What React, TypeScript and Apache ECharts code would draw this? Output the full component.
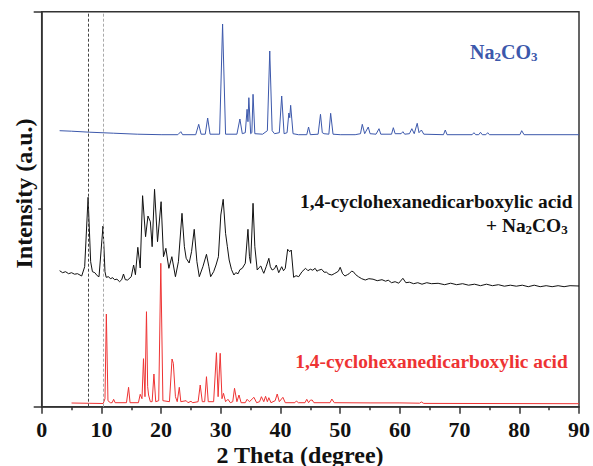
import React, { useEffect, useRef } from "react";
import * as echarts from "echarts";

// 2θ (degree), intensity (a.u.) pairs
const na2co3: [number, number][] = [
  [3, 276], [5, 275.5], [8, 274.5], [12, 273.5], [16, 272.5], [20, 272], [22.8, 272], [23.3, 275], [23.6, 272],
  [25.8, 272], [26.3, 282.4], [26.7, 272.5], [27.4, 272.5], [27.8, 288.7], [28.2, 272.5], [29.8, 272.5],
  [30.3, 382.7], [30.8, 272.5], [32.7, 272.5], [33.2, 287.7], [33.6, 273], [34.1, 274], [34.4, 297.4],
  [34.55, 285], [34.7, 309], [35.0, 273], [35.2, 274], [35.4, 312.4], [35.7, 273], [37.0, 272.5], [37.8, 276],
  [38.2, 355.7], [38.6, 276], [39.0, 273], [39.8, 274], [40.2, 310.7], [40.6, 273], [41.1, 274], [41.4, 293.7],
  [41.55, 289], [41.7, 301.4], [42.1, 273], [43, 272], [44.4, 272], [44.7, 279.7], [45.0, 272], [46.3, 272.5],
  [46.7, 292.4], [47.0, 274], [47.3, 273], [48.1, 272.5], [48.4, 293.4], [48.8, 272.5], [50, 272], [52.5, 272],
  [53.4, 273], [53.7, 282.4], [54.1, 273], [54.7, 279.7], [55.0, 273], [56.0, 272.5], [56.5, 278], [56.8, 272.5],
  [58.6, 272.5], [58.9, 279], [59.2, 273], [60.2, 273], [60.5, 275], [60.8, 272.5], [61.6, 273], [62.0, 278],
  [62.4, 273], [62.9, 283.4], [63.2, 274], [63.6, 276.7], [64, 272.5], [67.3, 272], [67.6, 276.7], [67.9, 272],
  [72.1, 272], [72.4, 274], [72.7, 272], [73.2, 272], [73.5, 274.4], [73.8, 272], [74.4, 272], [74.7, 274], [75, 272],
  [80.1, 272], [80.4, 276], [80.8, 272], [90, 272],
];

const mixture: [number, number][] = [
  [3, 136], [3.5, 134], [4, 135], [4.5, 133], [5, 134], [5.5, 132.5], [6, 133], [6.7, 130.7], [7.2, 140],
  [7.77, 209.4], [8.2, 145], [8.5, 135], [8.9, 134], [9.3, 131], [9.6, 130], [10.27, 180.7], [10.6, 135],
  [10.8, 129.4], [11.2, 130], [11.5, 128], [11.9, 129], [12.2, 127], [12.6, 127.5], [13.05, 125], [13.4, 127],
  [13.7, 132.7], [14.0, 127], [14.4, 126.7], [15.0, 130], [15.4, 141.7], [15.7, 132], [16.1, 159.4], [16.5, 138.7],
  [16.9, 211], [17.4, 170], [17.8, 190.7], [18.2, 185], [18.5, 160], [18.9, 217.4], [19.4, 165], [20.0, 205],
  [20.4, 150], [20.8, 158.4], [21.3, 138.4], [21.8, 150], [22.4, 130], [22.9, 145], [23.5, 193.4], [23.9, 160],
  [24.2, 148.4], [24.7, 143.7], [25.1, 155], [25.55, 177.4], [26.0, 145], [26.4, 130], [27.0, 140], [27.6, 152.4],
  [28.0, 140], [28.3, 130], [28.8, 135], [29.2, 141.7], [29.6, 150], [30.0, 191.7], [30.4, 207.4], [30.8, 173.4],
  [31.1, 160], [31.4, 146.7], [31.8, 137], [32.2, 131.7], [32.5, 134], [32.9, 133], [33.2, 137], [33.6, 138.4],
  [34.1, 143.4], [34.55, 177.4], [34.8, 150], [35.0, 143.4], [35.4, 203.4], [35.7, 160], [36.1, 136.7],
  [36.4, 139], [36.7, 140.7], [37.0, 136], [37.2, 133.4], [37.6, 140], [38.05, 148.4], [38.3, 140], [38.6, 136.7],
  [39.0, 138], [39.3, 141.7], [39.7, 134], [40.2, 140], [40.5, 136], [40.8, 138.4], [41.2, 157.4], [41.55, 155],
  [41.8, 156.7], [42.2, 129.4], [42.6, 131], [43.05, 130], [43.6, 135], [44.2, 138.4], [44.6, 136], [45.0, 137.5],
  [45.4, 136.5], [45.8, 138.4], [46.1, 135.5], [46.4, 136.5], [46.9, 137.4], [47.3, 134.5], [47.7, 134.5],
  [48.1, 132.5], [48.6, 131.7], [49.0, 133], [49.3, 134], [49.7, 135.5], [50.0, 139.4], [50.4, 133], [50.8, 130.7],
  [51.2, 132], [51.5, 133], [51.9, 135.5], [52.2, 135], [52.6, 132], [53.05, 130], [53.6, 128], [54.2, 126.7],
  [54.8, 128], [55.5, 127.5], [56.2, 126], [57, 127], [57.6, 125.5], [58.05, 126.5], [58.6, 124], [59.2, 125],
  [59.8, 123.5], [60.5, 128.4], [61.0, 124], [61.6, 124.5], [62.3, 123], [63, 124], [63.7, 122.5], [64.5, 124],
  [65.3, 123], [66.4, 123.4], [67.5, 122], [68.5, 123.5], [69.5, 122], [70.5, 123], [71.5, 121.5], [72.5, 122.5],
  [73.5, 121], [74.5, 122.5], [75.5, 121], [76.5, 122], [77.5, 120.5], [78.5, 121.5], [79.5, 120.5], [80.5, 121.5],
  [81.5, 120], [82.5, 121.5], [83.5, 120], [84.5, 121], [85.5, 120], [86.5, 121], [87.5, 120], [88.5, 121], [90, 120.7],
];

const acid: [number, number][] = [
  [5, 3.7], [8, 3.4], [10.3, 3.2], [10.6, 8], [10.83, 92.7], [11.1, 6], [11.5, 4], [11.8, 4], [12.05, 7.4],
  [12.3, 4], [14.2, 4], [14.55, 19.4], [14.8, 4], [16.2, 4], [16.5, 12.4], [16.8, 8], [17.05, 48], [17.3, 10],
  [17.55, 95], [17.75, 20], [17.9, 11.7], [18.2, 5], [18.5, 5], [18.8, 32.7], [19.1, 5], [19.6, 6], [19.95, 143.4],
  [20.3, 6], [21.4, 5], [21.83, 47.7], [22.05, 43.4], [22.4, 10], [22.7, 5], [23.05, 19.4], [23.3, 5], [24.2, 6],
  [24.5, 4], [25.0, 5.4], [25.3, 4], [26.2, 5], [26.55, 21.7], [26.9, 5], [27.3, 5], [27.6, 30], [27.9, 5],
  [28.8, 5], [29.27, 54], [29.55, 10], [29.9, 53.4], [30.2, 8], [30.45, 13.4], [30.8, 5], [31.2, 7.4], [31.6, 4],
  [32.0, 5], [32.3, 18.4], [32.7, 5], [33.05, 11.7], [33.4, 4], [34.1, 4], [34.4, 7.4], [34.8, 5], [35.55, 9.4],
  [36.0, 4], [36.5, 5], [36.8, 10], [37.2, 5], [37.5, 10.4], [37.8, 5], [38.05, 9], [38.4, 4], [39.1, 6],
  [39.45, 12.7], [39.8, 5], [40.4, 9.4], [40.8, 4], [42.4, 4], [42.66, 5.7], [43, 4], [44.1, 4], [44.4, 7.4],
  [44.7, 4], [45.0, 6.5], [45.3, 6.7], [45.6, 4], [48.3, 4], [48.6, 7.7], [49, 4], [55, 3.8], [60, 3.8],
  [63.3, 3.5], [63.6, 4.7], [64, 3.3], [90, 3],
];

const xTicks = { min: 0, max: 90, interval: 10 };
const refLines = [7.77, 10.27];

const BLUE = "#3c58ab";
const RED = "#ee3333";
const BLACK = "#111111";
const FONT = "'Liberation Serif', 'Times New Roman', serif";

export default function App() {
  const ref = useRef<HTMLDivElement>(null);
  useEffect(() => {
    const chart = echarts.init(ref.current!, null, { renderer: "svg" });
    const sub = (color: string) => ({
      fontSize: 13, fontWeight: "bold", fontFamily: FONT, fill: color, lineHeight: 13, verticalAlign: "bottom",
    });
    const main = (color: string, size: number) => ({
      fontSize: size, fontWeight: "bold", fontFamily: FONT, fill: color, lineHeight: 22,
    });
    chart.setOption({
      animation: false,
      backgroundColor: "#ffffff",
      grid: { left: 41.7, right: 11.3, top: 11.7, bottom: 59.3, show: true, borderColor: "#333", borderWidth: 1.5 },
      xAxis: {
        type: "value",
        min: xTicks.min,
        max: xTicks.max,
        interval: xTicks.interval,
        axisLine: { show: true, onZero: false, lineStyle: { color: "#333", width: 1.5 } },
        axisTick: { show: true, inside: false, length: 7, lineStyle: { color: "#333", width: 1.5 } },
        minorTick: { show: true, splitNumber: 2, length: 3.5, lineStyle: { color: "#333", width: 1.5 } },
        splitLine: { show: false },
        axisLabel: { margin: 12, fontSize: 22, fontWeight: "bold", fontFamily: FONT, color: "#111" },
      },
      yAxis: {
        type: "value",
        min: 0,
        max: 395,
        interval: 395,
        axisLine: { show: true, lineStyle: { color: "#333", width: 1.5 } },
        axisTick: { show: true, inside: false, length: 8, lineStyle: { color: "#333", width: 1.5 } },
        minorTick: { show: true, splitNumber: 2, length: 3.5, lineStyle: { color: "#333", width: 1.5 } },
        splitLine: { show: false },
        axisLabel: { show: false },
      },
      series: [
        {
          type: "line", data: acid, showSymbol: false, symbol: "none", lineStyle: { color: RED, width: 1 },
          markLine: {
            silent: true, symbol: "none", label: { show: false },
            data: [
              { xAxis: refLines[0], lineStyle: { color: "#444", type: [3, 2], width: 1 } },
              { xAxis: refLines[1], lineStyle: { color: "#aaa", type: [3, 2], width: 1 } },
            ],
          },
        },
        { type: "line", data: mixture, showSymbol: false, symbol: "none", lineStyle: { color: BLACK, width: 1 } },
        { type: "line", data: na2co3, showSymbol: false, symbol: "none", lineStyle: { color: BLUE, width: 1 } },
      ],
      graphic: [
        {
          type: "text", x: 300, y: 454.5,
          style: { text: "2 Theta (degree)", font: `bold 24px ${FONT}`, fill: "#111", textAlign: "center", textVerticalAlign: "middle" },
        },
        {
          type: "text", x: 23.8, y: 193.5, rotation: Math.PI / 2,
          style: { text: "Intensity (a.u.)", font: `bold 24px ${FONT}`, fill: "#111", textAlign: "center", textVerticalAlign: "middle" },
        },
        {
          type: "text", x: 470, y: 51.5,
          style: {
            text: "{m|Na}{s|2}{m|CO}{s|3}", fill: BLUE, textAlign: "left", textVerticalAlign: "middle",
            rich: { m: main(BLUE, 20), s: sub(BLUE) },
          },
        },
        {
          type: "text", x: 572.5, y: 201.5,
          style: { text: "1,4-cyclohexanedicarboxylic acid", font: `bold 19.4px ${FONT}`, fill: BLACK, textAlign: "right", textVerticalAlign: "middle" },
        },
        {
          type: "text", x: 486, y: 225,
          style: {
            text: "{m|+ Na}{s|2}{m|CO}{s|3}", fill: BLACK, textAlign: "left", textVerticalAlign: "middle",
            rich: { m: main(BLACK, 19.4), s: sub(BLACK) },
          },
        },
        {
          type: "text", x: 567.7, y: 361.5,
          style: { text: "1,4-cyclohexanedicarboxylic acid", font: `bold 19.4px ${FONT}`, fill: RED, textAlign: "right", textVerticalAlign: "middle" },
        },
      ],
    });
    return () => chart.dispose();
  }, []);
  return <div ref={ref} style={{ position: "fixed", left: 0, top: 0, width: 593, height: 466, background: "#fff" }} />;
}
